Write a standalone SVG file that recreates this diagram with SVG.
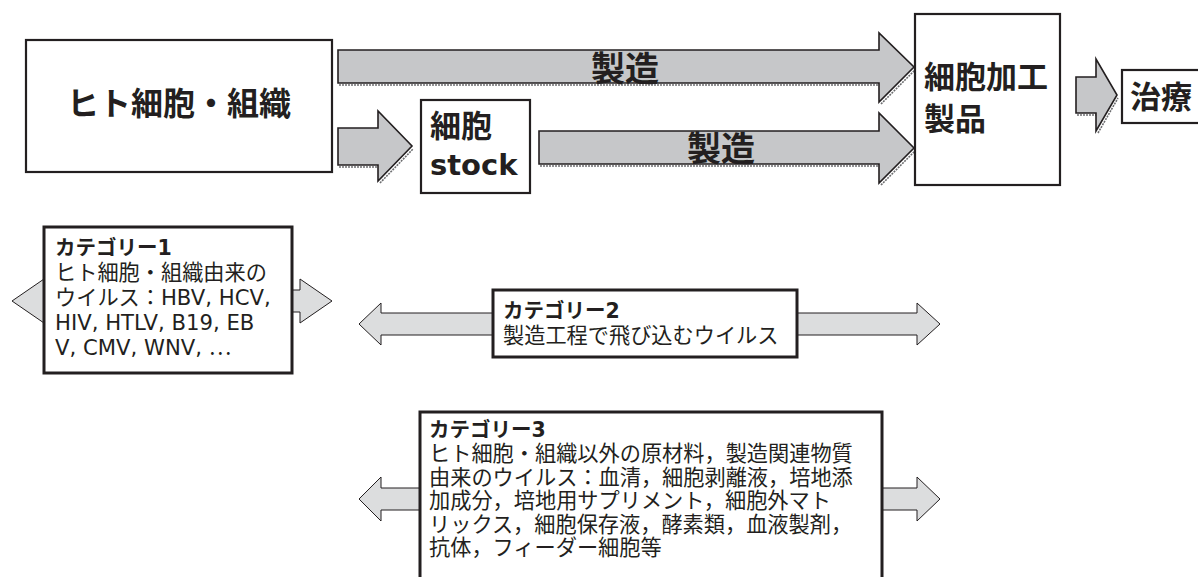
<svg xmlns="http://www.w3.org/2000/svg" width="1198" height="577" viewBox="0 0 1198 577">
<style>
.box{fill:#fff;stroke:#231f20;stroke-width:2.2}
.cbox{fill:#fff;stroke:#231f20;stroke-width:3}
.arr{fill:#c6c7c9;stroke:#231f20;stroke-width:1.6;stroke-linejoin:miter}
.shd{fill:none;stroke:#6d6e70;stroke-width:1.6;stroke-dasharray:2 1}
.carr{fill:#dcddde;stroke:#231f20;stroke-width:1}
.big{font-family:"Noto Sans CJK JP",sans-serif;font-weight:700;fill:#231f20}
.lat{font-family:"DejaVu Sans","Noto Sans CJK JP",sans-serif;font-weight:700;fill:#231f20}
.hd{font-family:"DejaVu Sans","Noto Sans CJK JP",sans-serif;font-weight:700;font-size:20.5px;fill:#231f20}
.tx{font-family:"DejaVu Sans","Noto Sans CJK JP",sans-serif;font-size:21.2px;fill:#231f20}
.cj{font-family:"Noto Sans CJK JP",sans-serif}
</style>
<g id="connectors">
  <polyline class="shd" points="339,85 879,85"/>
  <polyline class="shd" points="881,104 915,70"/>
  <polyline class="shd" points="339,167 378,167"/>
  <polyline class="shd" points="380,183 413,149"/>
  <polyline class="shd" points="540,166 879,166"/>
  <polyline class="shd" points="881,185 915,151"/>
  <polyline class="shd" points="1077,115 1096,115"/>
  <polyline class="shd" points="1098,133 1118,98"/>
  <path class="arr" d="M338,50 L879,50 L879,33 L914,67 L879,102 L879,83 L338,83 Z"/>
  <path class="arr" d="M338,128 L378,128 L378,111 L412,146 L378,181 L378,165 L338,165 Z"/>
  <path class="arr" d="M539,131 L879,131 L879,113 L914,148 L879,183 L879,164 L539,164 Z"/>
  <path class="arr" d="M1076,77 L1096,77 L1096,59 L1117,95 L1096,131 L1096,113 L1076,113 Z"/>
  <text class="big" x="625" y="81" font-size="34" text-anchor="middle">製造</text>
  <text class="big" x="721" y="161" font-size="34" text-anchor="middle">製造</text>
  <path class="carr" d="M12,301 L44,279 L44,290 L300,290 L300,279 L332,301 L300,323 L300,312 L44,312 L44,323 Z"/>
  <path class="carr" d="M359,324 L381,303 L381,313 L917,313 L917,303 L940,324 L917,345 L917,335 L381,335 L381,345 Z"/>
  <path class="carr" d="M359,499 L381,477 L381,488 L917,488 L917,477 L940,499 L917,521 L917,510 L381,510 L381,521 Z"/>
</g>
<g id="human-cells">
  <rect class="box" x="26" y="40" width="306" height="132"/>
  <text class="big" x="179" y="115" font-size="32" text-anchor="middle">ヒト細胞・組織</text>
</g>
<g id="cell-stock">
  <rect class="box" x="421" y="100" width="109" height="93"/>
  <text class="big" x="430" y="137" font-size="31">細胞</text>
  <text class="lat" x="430" y="175" font-size="29">stock</text>
</g>
<g id="product">
  <rect class="box" x="915" y="14" width="145" height="171"/>
  <text class="big" x="924" y="88" font-size="31">細胞加工</text>
  <text class="big" x="924" y="130" font-size="31">製品</text>
</g>
<g id="treatment">
  <rect class="box" x="1122" y="70" width="90" height="53"/>
  <text class="big" x="1130" y="108" font-size="31">治療</text>
</g>
<g id="category1">
  <rect class="cbox" x="44" y="227" width="248" height="146"/>
  <text class="hd" x="55" y="255">カテゴリー1</text>
  <text class="tx" x="55" y="280">ヒト細胞・組織由来の</text>
  <text class="tx" x="55" y="305">ウイルス：HBV, HCV,</text>
  <text class="tx" x="55" y="330">HIV, HTLV, B19, EB</text>
  <text class="tx" x="55" y="355">V, CMV, WNV, <tspan class="cj">⋯</tspan></text>
</g>
<g id="category2">
  <rect class="cbox" x="493" y="290" width="304" height="67"/>
  <text class="hd" x="503" y="318">カテゴリー2</text>
  <text class="tx" x="503" y="343">製造工程で飛び込むウイルス</text>
</g>
<g id="category3">
  <rect class="cbox" x="420" y="412" width="462" height="180"/>
  <text class="hd" x="429" y="437">カテゴリー3</text>
  <text class="tx" x="429" y="461">ヒト細胞・組織以外の原材料，製造関連物質</text>
  <text class="tx" x="429" y="484.5">由来のウイルス：血清，細胞剥離液，培地添</text>
  <text class="tx" x="429" y="508">加成分，培地用サプリメント，細胞外マト</text>
  <text class="tx" x="429" y="531.5">リックス，細胞保存液，酵素類，血液製剤，</text>
  <text class="tx" x="429" y="555">抗体，フィーダー細胞等</text>
</g>
</svg>
